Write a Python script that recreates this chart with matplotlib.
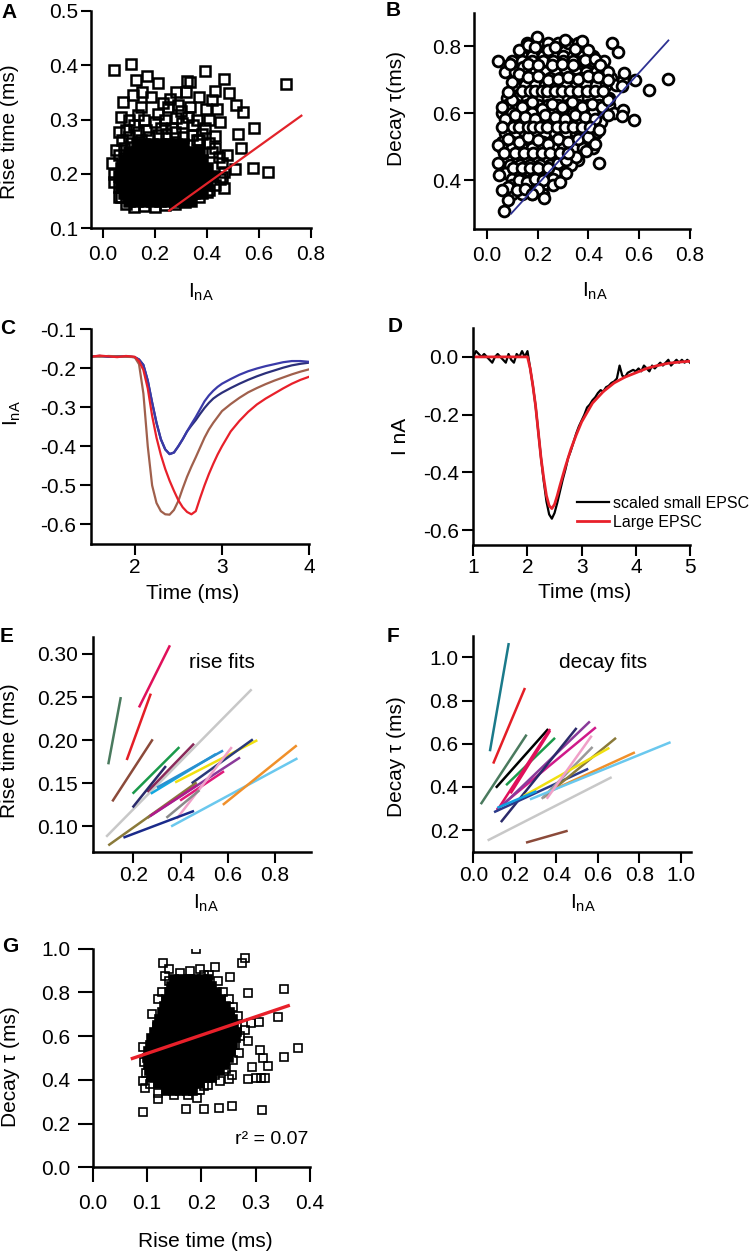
import numpy as np
import matplotlib
matplotlib.use("Agg")
import matplotlib.pyplot as plt

plt.rcParams["font.family"] = ["Liberation Sans", "DejaVu Sans"]
plt.rcParams["mathtext.default"] = "regular"
plt.rcParams["axes.unicode_minus"] = False

# ---- A: rise time vs amplitude ---------------------------------------------------
a_open = [(0.043, 0.391), (0.108, 0.402), (0.078, 0.333), (0.127, 0.373), (0.170, 0.380),
          (0.114, 0.345), (0.212, 0.367), (0.257, 0.338), (0.322, 0.371), (0.335, 0.370),
          (0.394, 0.389), (0.465, 0.375), (0.485, 0.348), (0.511, 0.327), (0.541, 0.314),
          (0.706, 0.365), (0.582, 0.284), (0.521, 0.274), (0.452, 0.296), (0.420, 0.336),
          (0.433, 0.353), (0.368, 0.342), (0.335, 0.323), (0.576, 0.210), (0.634, 0.204),
          (0.508, 0.208), (0.530, 0.247), (0.478, 0.234), (0.468, 0.173), (0.420, 0.240),
          (0.069, 0.305), (0.062, 0.277), (0.049, 0.244), (0.043, 0.200), (0.062, 0.157),
          (0.088, 0.145), (0.342, 0.164), (0.407, 0.170), (0.459, 0.194), (0.166, 0.280),
          (0.212, 0.311), (0.147, 0.323), (0.186, 0.342), (0.264, 0.284), (0.303, 0.293),
          (0.368, 0.262), (0.394, 0.284), (0.036, 0.219), (0.043, 0.185), (0.062, 0.176),
          (0.069, 0.157), (0.121, 0.139), (0.160, 0.140), (0.199, 0.139), (0.238, 0.142),
          (0.277, 0.144), (0.316, 0.148), (0.368, 0.157), (0.400, 0.167), (0.433, 0.179),
          (0.452, 0.191), (0.465, 0.204), (0.459, 0.219), (0.446, 0.231), (0.433, 0.247),
          (0.407, 0.256), (0.361, 0.262), (0.381, 0.274), (0.342, 0.271), (0.309, 0.268),
          (0.277, 0.277), (0.244, 0.274), (0.212, 0.271), (0.179, 0.268), (0.147, 0.262),
          (0.108, 0.256), (0.082, 0.247), (0.062, 0.234), (0.075, 0.262), (0.101, 0.268),
          (0.134, 0.277), (0.199, 0.296), (0.238, 0.299), (0.283, 0.302), (0.329, 0.305),
          (0.361, 0.299), (0.101, 0.299), (0.134, 0.308), (0.251, 0.323), (0.290, 0.327),
          (0.120, 0.290), (0.160, 0.300), (0.225, 0.285), (0.300, 0.315), (0.345, 0.290),
          (0.410, 0.300), (0.430, 0.270), (0.090, 0.280), (0.280, 0.350), (0.230, 0.330),
          (0.150, 0.350), (0.320, 0.350), (0.395, 0.320), (0.440, 0.320)]
# overplotted core of the cloud, one list of x per row
a_core_y = [0.150, 0.165, 0.180, 0.195, 0.210, 0.225, 0.240, 0.255]
a_core_x = [[0.10, 0.13, 0.16, 0.19, 0.22, 0.25, 0.28, 0.31, 0.34],
            [0.08, 0.11, 0.14, 0.17, 0.20, 0.23, 0.26, 0.29, 0.32, 0.35, 0.38],
            [0.07, 0.10, 0.13, 0.16, 0.19, 0.22, 0.25, 0.28, 0.31, 0.34, 0.37, 0.40],
            [0.06, 0.09, 0.12, 0.15, 0.18, 0.21, 0.24, 0.27, 0.30, 0.33, 0.36, 0.39, 0.42],
            [0.07, 0.10, 0.13, 0.16, 0.19, 0.22, 0.25, 0.28, 0.31, 0.34, 0.37, 0.40],
            [0.08, 0.11, 0.14, 0.17, 0.20, 0.23, 0.26, 0.29, 0.32, 0.35, 0.38],
            [0.10, 0.13, 0.16, 0.19, 0.22, 0.25, 0.28, 0.31, 0.34, 0.37],
            [0.13, 0.16, 0.19, 0.22, 0.25, 0.28, 0.31]]
a_fit_x = [0.255, 0.764]
a_fit_y = [0.132, 0.307]

# ---- B: decay tau vs amplitude -----------------------------------------------------
# densely overlapping circles, one list of x per row
b_mid_y = [0.810, 0.772, 0.755, 0.725, 0.705, 0.685, 0.645, 0.625, 0.600, 0.575, 0.540,
           0.515, 0.495, 0.460, 0.445, 0.420, 0.405, 0.385, 0.360]
b_mid_x = [[0.16, 0.20, 0.24, 0.28, 0.32, 0.36],
           [0.14, 0.18, 0.22, 0.26, 0.30, 0.34, 0.38, 0.42],
           [0.10, 0.14, 0.18, 0.22, 0.26, 0.30, 0.34, 0.38, 0.42, 0.46],
           [0.07, 0.11, 0.15, 0.19, 0.23, 0.27, 0.31, 0.35, 0.39, 0.43, 0.47],
           [0.13, 0.17, 0.21, 0.25, 0.29, 0.33, 0.37, 0.41, 0.45, 0.49],
           [0.11, 0.15, 0.19, 0.23, 0.27, 0.31, 0.35, 0.39, 0.43, 0.47, 0.51],
           [0.08, 0.12, 0.16, 0.20, 0.24, 0.28, 0.32, 0.36, 0.40, 0.44, 0.48],
           [0.08, 0.12, 0.16, 0.20, 0.24, 0.28, 0.32, 0.36, 0.40, 0.44, 0.48],
           [0.06, 0.10, 0.14, 0.18, 0.22, 0.26, 0.30, 0.34, 0.38, 0.42, 0.46, 0.50],
           [0.09, 0.13, 0.17, 0.21, 0.25, 0.29, 0.33, 0.37, 0.41, 0.45],
           [0.07, 0.11, 0.15, 0.19, 0.23, 0.27, 0.31, 0.35, 0.39, 0.43],
           [0.06, 0.10, 0.14, 0.18, 0.22, 0.26, 0.30, 0.34, 0.38, 0.42],
           [0.06, 0.10, 0.14, 0.18, 0.22, 0.26, 0.30, 0.34, 0.38, 0.42],
           [0.08, 0.12, 0.16, 0.20, 0.24, 0.28, 0.32, 0.36],
           [0.09, 0.13, 0.17, 0.21, 0.25, 0.29, 0.33],
           [0.07, 0.11, 0.15, 0.19, 0.23, 0.27, 0.31],
           [0.10, 0.14, 0.18, 0.22, 0.26],
           [0.10, 0.14, 0.18, 0.22, 0.26],
           [0.10, 0.14, 0.18, 0.22]]
b_back = [(0.125, 0.788), (0.164, 0.803), (0.197, 0.828), (0.188, 0.797), (0.243, 0.788),
          (0.269, 0.798), (0.308, 0.818), (0.348, 0.793), (0.374, 0.816), (0.400, 0.788),
          (0.494, 0.810), (0.515, 0.783), (0.046, 0.755), (0.092, 0.748), (0.144, 0.738),
          (0.164, 0.748), (0.203, 0.743), (0.256, 0.743), (0.295, 0.748), (0.341, 0.743),
          (0.387, 0.758), (0.426, 0.763), (0.446, 0.743), (0.479, 0.723), (0.098, 0.694),
          (0.125, 0.718), (0.164, 0.708), (0.203, 0.713), (0.243, 0.699), (0.282, 0.703),
          (0.321, 0.708), (0.361, 0.703), (0.400, 0.713), (0.439, 0.708), (0.479, 0.699),
          (0.538, 0.699), (0.584, 0.700), (0.542, 0.720), (0.059, 0.619), (0.098, 0.639),
          (0.138, 0.619), (0.177, 0.634), (0.216, 0.614), (0.256, 0.629), (0.295, 0.619),
          (0.334, 0.634), (0.374, 0.619), (0.413, 0.629), (0.452, 0.619), (0.479, 0.639),
          (0.538, 0.609), (0.532, 0.591), (0.581, 0.581), (0.072, 0.584), (0.111, 0.594),
          (0.151, 0.589), (0.190, 0.584), (0.230, 0.594), (0.269, 0.589), (0.308, 0.584),
          (0.348, 0.594), (0.387, 0.589), (0.426, 0.584), (0.479, 0.594), (0.043, 0.506),
          (0.085, 0.524), (0.125, 0.514), (0.164, 0.529), (0.203, 0.519), (0.243, 0.509),
          (0.282, 0.524), (0.321, 0.514), (0.361, 0.524), (0.400, 0.529), (0.426, 0.509),
          (0.049, 0.415), (0.085, 0.380), (0.125, 0.400), (0.157, 0.395), (0.190, 0.405),
          (0.220, 0.400), (0.289, 0.395), (0.059, 0.372), (0.083, 0.340), (0.120, 0.370),
          (0.150, 0.375), (0.203, 0.375), (0.180, 0.360), (0.227, 0.348), (0.066, 0.307),
          (0.046, 0.452), (0.443, 0.450), (0.280, 0.450), (0.310, 0.460), (0.350, 0.470),
          (0.390, 0.488)]
b_front = [(0.083, 0.664), (0.138, 0.667), (0.171, 0.667), (0.190, 0.667), (0.216, 0.667),
           (0.236, 0.667), (0.269, 0.667), (0.295, 0.667), (0.328, 0.667), (0.361, 0.667),
           (0.393, 0.667), (0.426, 0.667), (0.459, 0.667), (0.532, 0.681), (0.639, 0.671),
           (0.715, 0.703), (0.059, 0.560), (0.105, 0.559), (0.125, 0.559), (0.161, 0.559),
           (0.184, 0.559), (0.210, 0.559), (0.236, 0.559), (0.275, 0.559), (0.308, 0.559),
           (0.341, 0.559), (0.374, 0.559), (0.407, 0.559), (0.442, 0.551), (0.066, 0.482),
           (0.111, 0.482), (0.147, 0.482), (0.184, 0.482), (0.216, 0.482), (0.249, 0.482),
           (0.289, 0.482), (0.321, 0.482), (0.105, 0.435), (0.138, 0.435), (0.171, 0.435),
           (0.203, 0.435), (0.243, 0.435)]
b_fit_x = [0.096, 0.715]
b_fit_y = [0.300, 0.818]

# ---- C: example EPSCs ---------------------------------------------------------------
c_t = [1.50, 1.60, 1.70, 1.80, 1.90, 2.00, 2.05, 2.10, 2.15, 2.20, 2.25, 2.30, 2.35, 2.40,
       2.45, 2.50, 2.55, 2.60, 2.65, 2.70, 2.75, 2.80, 2.85, 2.90, 2.95, 3.00, 3.10, 3.20,
       3.30, 3.40, 3.50, 3.60, 3.70, 3.80, 3.90, 4.00]
c_blue = [-0.170, -0.169, -0.171, -0.170, -0.170, -0.172, -0.178, -0.192, -0.232, -0.288,
          -0.340, -0.382, -0.408, -0.420, -0.416, -0.400, -0.382, -0.362, -0.343, -0.325,
          -0.305, -0.285, -0.270, -0.258, -0.248, -0.240, -0.228, -0.217, -0.208, -0.201,
          -0.195, -0.190, -0.185, -0.182, -0.182, -0.184]
c_navy = [-0.170, -0.169, -0.171, -0.170, -0.170, -0.172, -0.178, -0.192, -0.232, -0.288,
          -0.340, -0.382, -0.408, -0.420, -0.416, -0.400, -0.382, -0.362, -0.347, -0.333,
          -0.317, -0.302, -0.289, -0.278, -0.270, -0.263, -0.251, -0.240, -0.230, -0.221,
          -0.213, -0.206, -0.199, -0.193, -0.189, -0.186]
c_red = [-0.171, -0.168, -0.170, -0.172, -0.169, -0.171, -0.182, -0.205, -0.252, -0.322,
         -0.378, -0.422, -0.458, -0.488, -0.514, -0.538, -0.556, -0.568, -0.574, -0.566,
         -0.532, -0.500, -0.471, -0.445, -0.421, -0.400, -0.362, -0.335, -0.312, -0.293,
         -0.278, -0.265, -0.252, -0.240, -0.230, -0.222]
c_brown = [-0.170, -0.171, -0.169, -0.170, -0.171, -0.172, -0.190, -0.265, -0.400, -0.500,
           -0.545, -0.566, -0.574, -0.575, -0.563, -0.540, -0.508, -0.478, -0.452, -0.428,
           -0.403, -0.378, -0.357, -0.340, -0.325, -0.310, -0.292, -0.276, -0.262, -0.251,
           -0.241, -0.232, -0.224, -0.216, -0.209, -0.203]

# ---- D: scaled small vs large EPSC --------------------------------------------------
d_t = np.round(np.arange(1.0, 5.0001, 0.05), 2)
d_small = [0.00, 0.02, 0.01, 0.00, 0.01, 0.00, -0.01, -0.02, 0.00, 0.01,
           0.00, -0.01, -0.02, 0.01, -0.01, -0.02, 0.01, 0.00, 0.02, 0.00,
           0.02, -0.04, -0.10, -0.17, -0.26, -0.35, -0.43, -0.50, -0.545, -0.56,
           -0.54, -0.505, -0.465, -0.425, -0.39, -0.35, -0.325, -0.295, -0.265, -0.24,
           -0.22, -0.20, -0.175, -0.165, -0.15, -0.14, -0.125, -0.115, -0.12, -0.105,
           -0.10, -0.09, -0.085, -0.075, -0.03, -0.065, -0.07, -0.055, -0.05, -0.045,
           -0.05, -0.04, -0.05, -0.03, -0.04, -0.05, -0.03, -0.04, -0.03, -0.02,
           -0.03, -0.02, -0.01, -0.03, -0.02, -0.01, -0.02, -0.01, -0.02, -0.01, -0.02]
d_t_large = [1.0, 2.0, 2.05, 2.1, 2.15, 2.2, 2.25, 2.3, 2.35, 2.4, 2.45, 2.5, 2.55, 2.6,
             2.7, 2.8, 2.9, 3.0, 3.2, 3.4, 3.6, 3.8, 4.0, 4.2, 4.4, 4.6, 4.8, 5.0]
d_large = [0.0, 0.0, -0.04, -0.10, -0.17, -0.26, -0.35, -0.42, -0.48, -0.515, -0.525, -0.51,
           -0.48, -0.445, -0.38, -0.32, -0.27, -0.225, -0.16, -0.12, -0.09, -0.07, -0.055,
           -0.04, -0.03, -0.022, -0.018, -0.015]

# ---- E: per-cell rise-time fits ------------------------------------------------------
e_x0 = [0.094, 0.224, 0.172, 0.111, 0.085, 0.197, 0.259, 0.197, 0.274, 0.300, 0.377, 0.447,
        0.260, 0.398, 0.384, 0.094, 0.340, 0.158, 0.360, 0.579, 0.270]
e_y0 = [0.172, 0.238, 0.177, 0.129, 0.088, 0.138, 0.140, 0.122, 0.138, 0.145, 0.151, 0.150,
        0.110, 0.130, 0.109, 0.078, 0.110, 0.087, 0.100, 0.125, 0.112]
e_x1 = [0.147, 0.355, 0.274, 0.282, 0.701, 0.395, 0.457, 0.338, 0.550, 0.580, 0.725, 0.706,
        0.652, 0.584, 0.617, 0.468, 0.480, 0.457, 0.895, 0.892, 0.470]
e_y1 = [0.250, 0.310, 0.254, 0.201, 0.259, 0.192, 0.196, 0.170, 0.184, 0.188, 0.200, 0.201,
        0.180, 0.164, 0.192, 0.151, 0.142, 0.118, 0.179, 0.194, 0.148]
e_colors = ["#4a7a5e", "#e0105a", "#e41e26", "#8b4a3a", "#c8c8c8", "#1a9a4a", "#8a2a5a",
            "#2a2a6a", "#10a8e0", "#2a90d0", "#f0e010", "#2a3a7a", "#8a3a9a", "#e01a7a",
            "#f0a0c8", "#8a7a3a", "#8a8a8a", "#1a2a8a", "#6ac8ee", "#f0902a", "#b01a8a"]

# ---- F: per-cell decay fits ----------------------------------------------------------
f_x0 = [0.069, 0.254, 0.080, 0.096, 0.036, 0.109, 0.158, 0.113, 0.113, 0.137, 0.133, 0.100,
        0.337, 0.330, 0.241, 0.361, 0.273, 0.116, 0.354, 0.180]
f_y0 = [0.152, 0.142, 0.565, 0.508, 0.320, 0.396, 0.408, 0.288, 0.296, 0.311, 0.237, 0.283,
        0.350, 0.345, 0.357, 0.376, 0.342, 0.303, 0.345, 0.370]
f_x1 = [0.667, 0.455, 0.171, 0.249, 0.257, 0.361, 0.394, 0.370, 0.591, 0.562, 0.498, 0.554,
        0.688, 0.575, 0.656, 0.779, 0.951, 0.305, 0.571, 0.370]
f_y1 = [0.445, 0.197, 1.066, 0.858, 0.642, 0.668, 0.627, 0.668, 0.676, 0.703, 0.673, 0.484,
        0.627, 0.585, 0.581, 0.560, 0.607, 0.380, 0.637, 0.660]
f_colors = ["#c8c8c8", "#8b4a3a", "#1a7a8a", "#e41e26", "#4a7a5e", "#000000", "#1a9a4a",
            "#e0105a", "#d01a8a", "#8a3a9a", "#2a2a6a", "#2a3a8a", "#8a7a3a", "#9a9a9a",
            "#f0e010", "#f0902a", "#6ac8ee", "#10a0e0", "#f0a0c8", "#e0105a"]

# ---- G: decay tau vs rise time -------------------------------------------------------
g_open = [(0.190, 0.997), (0.130, 0.933), (0.281, 0.956), (0.274, 0.936), (0.225, 0.915),
          (0.198, 0.907), (0.253, 0.869), (0.134, 0.875), (0.121, 0.770), (0.285, 0.796),
          (0.353, 0.814), (0.341, 0.689), (0.307, 0.666), (0.291, 0.659), (0.285, 0.579),
          (0.308, 0.537), (0.378, 0.544), (0.352, 0.503), (0.314, 0.498), (0.323, 0.465),
          (0.294, 0.457), (0.317, 0.410), (0.309, 0.410), (0.301, 0.410), (0.286, 0.402),
          (0.251, 0.402), (0.257, 0.422), (0.234, 0.396), (0.213, 0.377), (0.198, 0.354),
          (0.192, 0.319), (0.121, 0.313), (0.093, 0.396), (0.096, 0.361), (0.093, 0.255),
          (0.171, 0.267), (0.204, 0.265), (0.233, 0.273), (0.257, 0.280), (0.312, 0.262),
          (0.092, 0.552), (0.269, 0.521), (0.266, 0.643), (0.259, 0.735), (0.118, 0.643),
          (0.110, 0.700), (0.115, 0.600), (0.095, 0.480), (0.098, 0.430), (0.105, 0.380),
          (0.120, 0.340), (0.150, 0.330), (0.175, 0.330), (0.205, 0.370), (0.225, 0.420),
          (0.245, 0.450), (0.258, 0.490), (0.262, 0.560), (0.272, 0.600), (0.268, 0.690),
          (0.250, 0.770), (0.240, 0.800), (0.230, 0.850), (0.215, 0.880), (0.160, 0.890),
          (0.140, 0.850), (0.128, 0.800), (0.140, 0.905), (0.180, 0.900), (0.205, 0.880),
          (0.242, 0.640), (0.280, 0.630)]
g_core_y = [0.86, 0.83, 0.80, 0.77, 0.74, 0.71, 0.68, 0.65, 0.62, 0.59, 0.56, 0.53, 0.50,
            0.47, 0.44, 0.41, 0.38, 0.35]
g_core_x = [[0.150, 0.163, 0.176, 0.189, 0.202, 0.212],
            [0.145, 0.158, 0.171, 0.184, 0.197, 0.210, 0.220],
            [0.140, 0.153, 0.166, 0.179, 0.192, 0.205, 0.218, 0.228],
            [0.135, 0.148, 0.161, 0.174, 0.187, 0.200, 0.213, 0.226, 0.236],
            [0.132, 0.145, 0.158, 0.171, 0.184, 0.197, 0.210, 0.223, 0.236, 0.245],
            [0.128, 0.141, 0.154, 0.167, 0.180, 0.193, 0.206, 0.219, 0.232, 0.245, 0.252],
            [0.122, 0.135, 0.148, 0.161, 0.174, 0.187, 0.200, 0.213, 0.226, 0.239, 0.252, 0.258],
            [0.118, 0.131, 0.144, 0.157, 0.170, 0.183, 0.196, 0.209, 0.222, 0.235, 0.248, 0.260],
            [0.112, 0.125, 0.138, 0.151, 0.164, 0.177, 0.190, 0.203, 0.216, 0.229, 0.242, 0.255, 0.266],
            [0.108, 0.121, 0.134, 0.147, 0.160, 0.173, 0.186, 0.199, 0.212, 0.225, 0.238, 0.251, 0.264],
            [0.105, 0.118, 0.131, 0.144, 0.157, 0.170, 0.183, 0.196, 0.209, 0.222, 0.235, 0.248, 0.258],
            [0.102, 0.115, 0.128, 0.141, 0.154, 0.167, 0.180, 0.193, 0.206, 0.219, 0.232, 0.245, 0.254],
            [0.100, 0.113, 0.126, 0.139, 0.152, 0.165, 0.178, 0.191, 0.204, 0.217, 0.230, 0.243, 0.250],
            [0.102, 0.115, 0.128, 0.141, 0.154, 0.167, 0.180, 0.193, 0.206, 0.219, 0.232, 0.244],
            [0.104, 0.117, 0.130, 0.143, 0.156, 0.169, 0.182, 0.195, 0.208, 0.221, 0.234],
            [0.108, 0.121, 0.134, 0.147, 0.160, 0.173, 0.186, 0.199, 0.212, 0.220],
            [0.120, 0.133, 0.146, 0.159, 0.172, 0.185, 0.198],
            [0.135, 0.148, 0.161, 0.174, 0.185]]
g_fit_x = [0.073, 0.360]
g_fit_y = [0.498, 0.739]
g_r2 = "r\u00b2 = 0.07"

INA = r"$\mathregular{I_{nA}}$"
TICK_FS = 15
LABEL_FS = 15
W, H = 750.0, 1253.0
fig = plt.figure(figsize=(W / 100, H / 100), dpi=100)


def add_axes(x0, x1, ytop, ybot):
    # pixel box -> figure fraction
    return fig.add_axes([x0 / W, 1 - ybot / H, (x1 - x0) / W, (ybot - ytop) / H])


def frame(ax, tick_len=7, xpad=5, ypad=2.5):
    for s in ("top", "right"):
        ax.spines[s].set_visible(False)
    for s in ("left", "bottom"):
        ax.spines[s].set_linewidth(1.8)
    ax.tick_params(direction="out", length=tick_len, width=1.5, labelsize=TICK_FS)
    ax.tick_params(axis="x", pad=xpad)
    ax.tick_params(axis="y", pad=ypad)


def labels(ax, xlab, xpos, ylab, ypos):
    ax.text(*xpos, xlab, transform=ax.transAxes, ha="center", va="center", fontsize=LABEL_FS)
    ax.text(*ypos, ylab, transform=ax.transAxes, ha="center", va="center", fontsize=LABEL_FS,
            rotation=90)


def scatter_rows(ax, rows_x, rows_y, **kw):
    xs = [x for row, y in zip(rows_x, rows_y) for x in row]
    ys = [y for row, y in zip(rows_x, rows_y) for _ in row]
    ax.plot(xs, ys, ls="none", **kw)


# A
ax = add_axes(91, 310.7, 11, 228)
scatter_rows(ax, a_core_x, a_core_y, marker="s", ms=7.4, mfc="black", mec="black", mew=1.8)
ax.plot(*zip(*a_open), ls="none", marker="s", ms=7.4, mfc="none", mec="black", mew=1.8)
ax.plot(a_fit_x, a_fit_y, color="#e2232a", lw=1.6)
ax.set_xlim(-0.046, 0.8)
ax.set_ylim(0.1, 0.5)
ax.set_xticks([0.0, 0.2, 0.4, 0.6, 0.8])
ax.set_yticks([0.1, 0.2, 0.3, 0.4, 0.5])
ax.xaxis.set_major_formatter("{x:.1f}")
ax.yaxis.set_major_formatter("{x:.1f}")
frame(ax)
labels(ax, INA, (0.5, -0.295), "Rise time (ms)", (-0.369, 0.444))

# B
ax = add_axes(474.3, 690, 13, 229)
circle = dict(marker="o", ms=7.8, mfc="white", mec="black", mew=2.0)
scatter_rows(ax, b_mid_x, b_mid_y, **circle)
ax.plot(*zip(*b_back), ls="none", **circle)
ax.plot(*zip(*b_front), ls="none", **circle)
ax.plot(b_fit_x, b_fit_y, color="#2e3192", lw=1.3)
ax.set_xlim(-0.049, 0.8)
ax.set_ylim(0.254, 0.9)
ax.set_xticks([0.0, 0.2, 0.4, 0.6, 0.8])
ax.set_yticks([0.4, 0.6, 0.8])
ax.xaxis.set_major_formatter("{x:.1f}")
ax.yaxis.set_major_formatter("{x:.1f}")
frame(ax)
labels(ax, INA, (0.56, -0.29), "Decay \u03c4(ms)", (-0.36, 0.559))

# C
ax = add_axes(91, 309.3, 329, 544)
ax.plot(c_t, c_navy, color="#2b2f7a", lw=1.6)
ax.plot(c_t, c_blue, color="#3a3aa8", lw=1.6)
ax.plot(c_t, c_brown, color="#a0604c", lw=1.6)
ax.plot(c_t, c_red, color="#e8202a", lw=1.6)
ax.set_xlim(1.5, 4.0)
ax.set_ylim(-0.65, -0.1)
ax.set_xticks([2, 3, 4])
ax.set_yticks([-0.1, -0.2, -0.3, -0.4, -0.5, -0.6])
ax.yaxis.set_major_formatter("{x:.1f}")
frame(ax, tick_len=8, xpad=2)
labels(ax, "Time (ms)", (0.466, -0.228), INA, (-0.36, 0.61))

# D
ax = add_axes(473.3, 690, 328, 544.7)
ax.plot(d_t, d_small, color="black", lw=1.6, label="scaled small EPSC")
ax.plot(d_t_large, d_large, color="#e8202a", lw=2.0, label="Large EPSC")
ax.set_xlim(1, 5)
ax.set_ylim(-0.65, 0.1)
ax.set_xticks([1, 2, 3, 4, 5])
ax.set_yticks([0.0, -0.2, -0.4, -0.6])
ax.yaxis.set_major_formatter("{x:.1f}")
frame(ax, tick_len=8, xpad=1.5)
labels(ax, "Time (ms)", (0.515, -0.222), "I nA", (-0.338, 0.50))
ax.legend(loc="upper left", bbox_to_anchor=(0.477, 0.225), frameon=False, fontsize=11.5,
          handlelength=2.0, handletextpad=0.3, labelspacing=0.25, borderpad=0,
          borderaxespad=0)

# E
ax = add_axes(92.7, 310.7, 636.7, 852.3)
for x0, y0, x1, y1, c in zip(e_x0, e_y0, e_x1, e_y1, e_colors):
    ax.plot([x0, x1], [y0, y1], color=c, lw=1.8, solid_capstyle="butt")
ax.text(0.574, 0.29, "rise fits", ha="center", va="center", fontsize=15)
ax.set_xlim(0.028, 0.951)
ax.set_ylim(0.07, 0.32)
ax.set_xticks([0.2, 0.4, 0.6, 0.8])
ax.set_yticks([0.10, 0.15, 0.20, 0.25, 0.30])
ax.xaxis.set_major_formatter("{x:.1f}")
ax.yaxis.set_major_formatter("{x:.2f}")
frame(ax, tick_len=8, xpad=2)
labels(ax, INA, (0.52, -0.235), "Rise time (ms)", (-0.38, 0.47))

# F
ax = add_axes(473.3, 690.7, 635.7, 851.7)
for x0, y0, x1, y1, c in zip(f_x0, f_y0, f_x1, f_y1, f_colors):
    ax.plot([x0, x1], [y0, y1], color=c, lw=1.8, solid_capstyle="butt")
ax.text(0.627, 0.976, "decay fits", ha="center", va="center", fontsize=15)
ax.set_xlim(0.0, 1.048)
ax.set_ylim(0.1, 1.1)
ax.set_xticks([0.0, 0.2, 0.4, 0.6, 0.8, 1.0])
ax.set_yticks([0.2, 0.4, 0.6, 0.8, 1.0])
ax.xaxis.set_major_formatter("{x:.1f}")
ax.yaxis.set_major_formatter("{x:.1f}")
frame(ax, tick_len=8, xpad=2)
labels(ax, INA, (0.505, -0.24), "Decay \u03c4 (ms)", (-0.352, 0.44))

# G
ax = add_axes(92.7, 310, 948.7, 1167.3)
scatter_rows(ax, g_core_x, g_core_y, marker="s", ms=5.3, mfc="black", mec="black", mew=1.2)
ax.plot(*zip(*g_open), ls="none", marker="s", ms=5.3, mfc="none", mec="black", mew=1.2)
ax.plot(g_fit_x, g_fit_y, color="#e8202a", lw=2.4)
ax.text(0.397, 0.125, g_r2, ha="right", va="center", fontsize=14)
ax.set_xlim(0.0, 0.4)
ax.set_ylim(0.0, 1.0)
ax.set_xticks([0.0, 0.1, 0.2, 0.3, 0.4])
ax.set_yticks([0.0, 0.2, 0.4, 0.6, 0.8, 1.0])
ax.xaxis.set_major_formatter("{x:.1f}")
ax.yaxis.set_major_formatter("{x:.1f}")
frame(ax, tick_len=11, xpad=8, ypad=5)
labels(ax, "Rise time (ms)", (0.52, -0.34), "Decay \u03c4 (ms)", (-0.38, 0.46))

# panel letters (pixel positions)
for letter, (px, py) in zip("ABCDEFG", [(9, 12), (393, 10), (8, 328), (395, 327),
                                      (7, 636), (393, 636), (10, 947)]):
    fig.text(px / W, 1 - py / H, letter, fontsize=15, fontweight="bold", ha="center",
             va="center")

fig.savefig("out.png", dpi=100)
